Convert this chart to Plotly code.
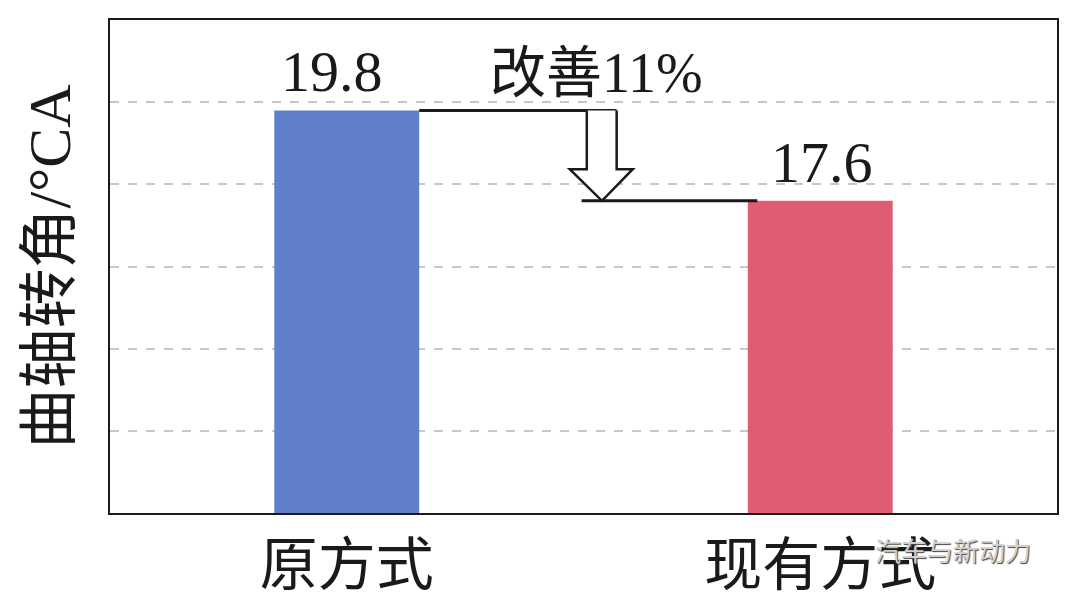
import plotly.graph_objects as go

# 数据
categories = ["原方式", "现有方式"]
values = [19.8, 17.6]
bar_colors = ["#5f7fc8", "#e05c73"]
improve_text = "改善11%"
y_title = "曲轴转角/°CA"
watermark = "汽车与新动力"

x_pos = list(range(len(categories)))
bar_w = 0.306
serif = "Liberation Serif, Noto Sans CJK SC"

fig = go.Figure()
fig.add_trace(go.Bar(x=x_pos, y=values, width=bar_w, marker=dict(color=bar_colors, line=dict(width=0)),
                     showlegend=False, hoverinfo="skip"))

# 数值标签
for xi, v, dx in zip(x_pos, values, [-15, 2]):
    fig.add_annotation(x=xi, y=v, text=f"{v}", showarrow=False, yanchor="bottom", yshift=4, xshift=dx,
                       font=dict(family=serif, size=58, color="#1a1a1a"))

# 改善箭头 (由数据推算)
hi, lo = values[0], values[1]
gap = hi - lo
x_end = x_pos[0] + 0.57
shaft_l, shaft_r = x_pos[0] + 0.507, x_end
head_l, head_r, tip = x_pos[0] + 0.471, x_pos[0] + 0.604, x_pos[0] + 0.539
shaft_bot = lo + 0.35 * gap
line_style = dict(color="#1a1a1a", width=3)

fig.add_shape(type="line", x0=x_pos[0] + bar_w / 2, x1=x_end, y0=hi, y1=hi, line=line_style)
fig.add_shape(type="path",
              path=(f"M {shaft_l} {hi} L {shaft_l} {shaft_bot} L {head_l} {shaft_bot} L {tip} {lo} "
                    f"L {head_r} {shaft_bot} L {shaft_r} {shaft_bot} L {shaft_r} {hi}"),
              line=dict(color="#1a1a1a", width=2.5), fillcolor="white")
fig.add_shape(type="line", x0=x_pos[0] + 0.496, x1=x_pos[1] - bar_w / 2 + 0.02, y0=lo, y1=lo, line=line_style)

fig.add_annotation(x=x_pos[0] + 0.528, y=hi, text=improve_text, showarrow=False, yanchor="bottom", yshift=4,
                   font=dict(family=serif, size=56, color="#1a1a1a"))

# 水印
fig.add_annotation(xref="paper", yref="paper", x=0.975, y=-0.075, text=watermark, showarrow=False,
                   xanchor="right", yanchor="middle",
                   font=dict(family="Noto Sans CJK SC", size=26, color="#d0d0d0", shadow="1px 1px 1px #444"))

fig.update_layout(
    width=1080, height=604,
    margin=dict(l=110, r=23, t=20, b=91),
    paper_bgcolor="white", plot_bgcolor="white",
    bargap=0.5,
)
fig.update_xaxes(range=[-0.5, 1.5], tickvals=x_pos, ticktext=categories, showgrid=False, automargin=False,
                 showline=True, linecolor="#1a1a1a", linewidth=2, mirror=True, ticks="",
                 ticklabelstandoff=0, tickfont=dict(family=serif, size=58, color="#1a1a1a"))
fig.update_yaxes(range=[10, 22], dtick=2, showticklabels=False, ticks="", automargin=False,
                 showgrid=True, gridcolor="#c8c8c8", griddash="dash", gridwidth=1.5, zeroline=False,
                 showline=True, linecolor="#1a1a1a", linewidth=2, mirror=True,
                 title=dict(text=y_title, standoff=18, font=dict(family=serif, size=60, color="#1a1a1a")))

# 去掉页面默认边距
fig.write_html("out.html", config={"displayModeBar": False},
               post_script="document.body.style.margin='0';")
